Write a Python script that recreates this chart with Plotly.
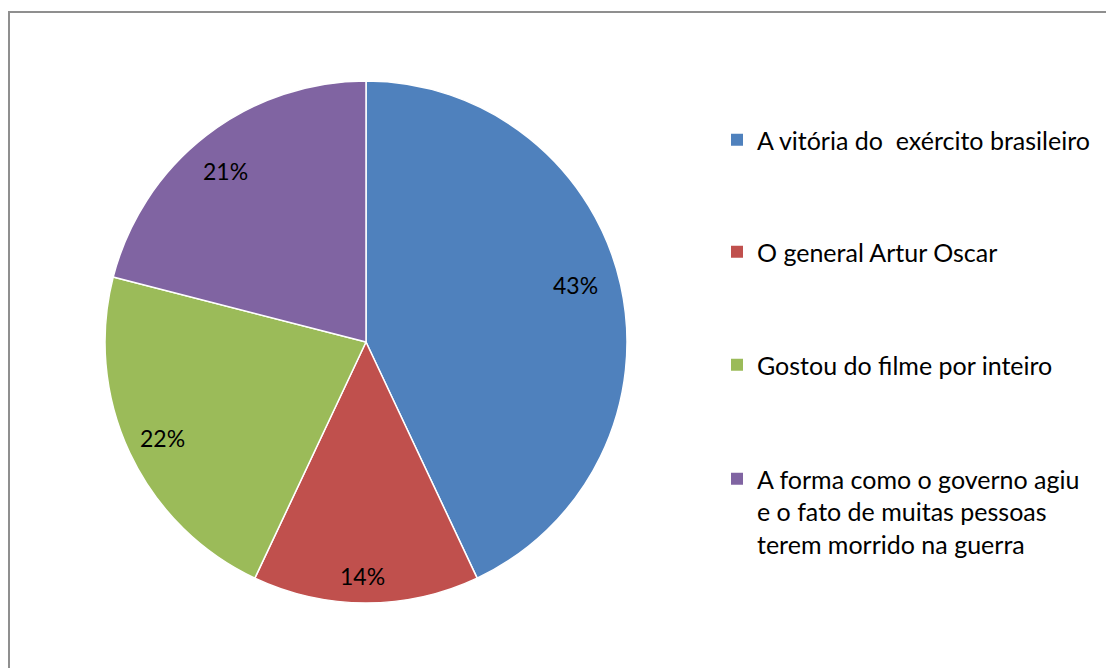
import numpy as np
import plotly.graph_objects as go

W, H = 1114, 668
OFF = 8  # page body margin offset

categories = [
    "A vitória do \u00a0exército brasileiro",
    "O general Artur Oscar",
    "Gostou do filme por inteiro",
    "A forma como o governo agiu<br>e o fato de muitas pessoas<br>terem morrido na guerra",
]
values = [43, 14, 22, 21]
colors = ["#4F81BD", "#C0504D", "#9BBB59", "#8064A2"]

FONT = "Lato"

# pie geometry (pixels in figure coordinates)
cx, cy, R = 366 - OFF, 342 - OFF, 261


def px2x(px):
    return px / W


def py2y(py):
    return 1 - py / H


fig = go.Figure()
fig.add_trace(go.Pie(
    values=values,
    labels=[c.replace("<br>", " ") for c in categories],
    sort=False,
    direction="clockwise",
    rotation=0,
    marker=dict(colors=colors, line=dict(color="white", width=1.5)),
    textinfo="none",
    hoverinfo="label+percent",
    showlegend=False,
    domain=dict(x=[px2x(cx - R), px2x(cx + R)], y=[py2y(cy + R), py2y(cy - R)]),
))

# percentage labels placed from the cumulative values (best-fit style nudges)
total = sum(values)
label_r = [0.83, 0.9, 0.86, 0.85]
label_nudge = [(-2, -10), (-4, -1), (0, 0), (-5, 4)]
cum = 0
for v, f, (dx, dy) in zip(values, label_r, label_nudge):
    mid = (cum + v / 2) / total * 2 * np.pi
    cum += v
    px = cx + R * f * np.sin(mid) + dx
    py = cy - R * f * np.cos(mid) + dy
    fig.add_annotation(
        x=px2x(px), y=py2y(py), xref="paper", yref="paper",
        text=f"{round(v / total * 100)}%", showarrow=False,
        font=dict(family=FONT, size=23, color="black"),
        xanchor="center", yanchor="middle",
    )

# legend entries, one legend per category for exact vertical spacing
legend_y = [140, 252, 365, 472]
legend_names = ["legend", "legend2", "legend3", "legend4"]
layout_legends = {}
for name, col, ln, ly in zip(categories, colors, legend_names, legend_y):
    fig.add_trace(go.Scatter(
        x=[None], y=[None], mode="markers", name=name,
        marker=dict(symbol="square", size=10, color=col),
        showlegend=True, legend=ln, hoverinfo="skip",
    ))
    multi = "<br>" in name
    layout_legends[ln] = dict(
        x=px2x(717 - OFF), xanchor="left",
        y=py2y(ly - OFF - (16 if multi else 0)),
        yanchor="top" if multi else "middle",
        valign="top",
        bgcolor="rgba(0,0,0,0)",
        font=dict(family=FONT, size=25, color="black"),
        itemsizing="constant",
    )

fig.update_layout(
    width=W, height=H,
    margin=dict(l=0, r=0, t=0, b=0),
    paper_bgcolor="white",
    plot_bgcolor="white",
    xaxis=dict(visible=False),
    yaxis=dict(visible=False),
    shapes=[dict(
        type="rect", xref="paper", yref="paper",
        x0=px2x(9 - OFF), x1=1.02, y0=-0.02, y1=py2y(12 - OFF),
        line=dict(color="#8f8f8f", width=2),
        fillcolor="rgba(0,0,0,0)", layer="below",
    )],
    **layout_legends,
)

fig.write_html("out.html")
